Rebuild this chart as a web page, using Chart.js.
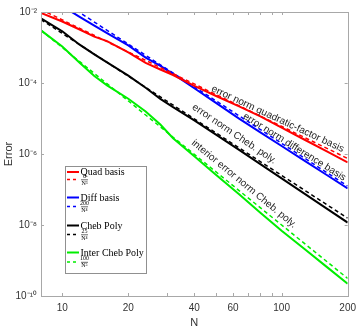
<!DOCTYPE html>
<html><head><meta charset="utf-8">
<script src="https://cdn.jsdelivr.net/npm/chart.js@4/dist/chart.umd.min.js"></script>
<style>html,body{margin:0;padding:0;background:#fff;}#wrap{width:362px;height:332px;position:relative;}</style>
</head><body><div id="wrap"><canvas id="c" width="362" height="332"></canvas></div>
<script>
// ---- data ----
const N = [8,10,12,14,16,20,24,28,32,40,50,64,80,100,128,160,200];
const quadBasis = [9.4e-3,5.4e-3,3.21e-3,2.03e-3,1.51e-3,7.28e-4,3.70e-4,2.40e-4,1.68e-4,8.3e-5,4.38e-5,2.19e-5,1.15e-5,5.57e-6,2.48e-6,1.20e-6,5.77e-7];
const diffBasis = [null,1.46e-2,7.33e-3,4.14e-3,2.53e-3,1.15e-3,5.2e-4,3.03e-4,1.80e-4,7.1e-5,2.81e-5,9.9e-6,4.08e-6,1.68e-6,6.3e-7,2.6e-7,1.07e-7];
const chebPoly = [6.65e-3,2.86e-3,1.20e-3,6.4e-4,3.80e-4,1.61e-4,7.33e-5,3.58e-5,2.08e-5,8.85e-6,3.56e-6,1.30e-6,5.16e-7,2.06e-7,7.4e-8,2.95e-8,1.17e-8];
const interCheb = [3.03e-3,1.07e-3,3.73e-4,1.57e-4,8.55e-5,3.61e-5,1.58e-5,6.76e-6,2.77e-6,8.7e-7,2.66e-7,7.3e-8,2.22e-8,6.87e-9,2.03e-9,6.73e-10,2.23e-10];
const refN = [8, 200];
const quadRef = [1.17e-2, 7.5e-7];    // 6/N^3
const diffRef = [4.88e-2, 1.25e-7];   // 200/N^4
const chebRef = [6.1e-3, 1.56e-8];    // 25/N^4
const interRef = [3.05e-3, 3.13e-10]; // 100/N^5
const xTicks = [10,20,30,40,50,60,70,80,90,100,200];
const xLabels = [10,20,40,60,100,200];
const yTicks = [1e-10,1e-8,1e-6,1e-4,1e-2];
const yLabels = ['10⁻¹⁰','10⁻⁸','10⁻⁶','10⁻⁴','10⁻²'];
const legendLabels = ['Quad basis',['6','N³'],'Diff basis',['200','N⁴'],'Cheb Poly',['25','N⁴'],'Inter Cheb Poly',['100','N⁵']];
const annotTexts = ['error norm quadratic-factor basis','error norm difference basis','error norm Cheb. poly.','interior error norm Cheb. poly.'];

const RED='#ff0000', BLUE='#0000ff', BLACK='#000000', GREEN='#00ee00';
const colors=[RED,RED,BLUE,BLUE,BLACK,BLACK,GREEN,GREEN];
const pts=(xs,ys)=>xs.map((x,i)=>({x:x,y:ys[i]}));
function solid(d,c){return {data:d,borderColor:c,borderWidth:2,pointRadius:0,fill:false,tension:0,spanGaps:false};}
function dashed(d,c){return {data:d,borderColor:c,borderWidth:1.5,borderDash:[4,3],pointRadius:0,fill:false,tension:0};}

const annotPlugin={id:'annot',afterDatasetsDraw(chart){
  const ctx=chart.ctx,xs=chart.scales.x,ys=chart.scales.y;
  const pos=[[95.9,9.7e-6,25],[114.4,1.57e-6,32],[60.8,3.66e-6,34],[67.4,1.43e-7,39.5]];
  ctx.save();
  ctx.font='10px "Liberation Sans", Arial, sans-serif';
  ctx.fillStyle='#262626';ctx.textAlign='center';ctx.textBaseline='middle';
  annotTexts.forEach((t,i)=>{
    const p=pos[i];
    ctx.save();
    ctx.translate(xs.getPixelForValue(p[0]),ys.getPixelForValue(p[1]));
    ctx.rotate(p[2]*Math.PI/180);
    ctx.fillText(t,0,0);
    ctx.restore();
  });
  ctx.restore();
}};

const framePlugin={id:'frame',afterDraw(chart){
  const ctx=chart.ctx,a=chart.chartArea,xs=chart.scales.x,ys=chart.scales.y;
  ctx.save();
  ctx.strokeStyle='#a8a8a8';ctx.lineWidth=1;
  ctx.strokeRect(Math.round(a.left)+0.5,Math.round(a.top)+0.5,Math.round(a.right-a.left),Math.round(a.bottom-a.top));
  ctx.beginPath();
  xTicks.forEach(v=>{const x=Math.round(xs.getPixelForValue(v))+0.5;
    ctx.moveTo(x,a.bottom);ctx.lineTo(x,a.bottom-3);ctx.moveTo(x,a.top);ctx.lineTo(x,a.top+3);});
  yTicks.forEach(v=>{const y=Math.round(ys.getPixelForValue(v))+0.5;
    ctx.moveTo(a.left,y);ctx.lineTo(a.left+3,y);ctx.moveTo(a.right,y);ctx.lineTo(a.right-3,y);});
  ctx.stroke();
  // legend
  const bx=65.5,by=166.5,bw=81,bh=107;
  ctx.fillStyle='#fff';ctx.fillRect(bx,by,bw,bh);
  ctx.strokeStyle='#909090';ctx.strokeRect(bx,by,bw,bh);
  const rowY=[172,179.5,197.5,206.5,225.5,234.5,252.5,262];
  legendLabels.forEach((lab,i)=>{
    const y=rowY[i];
    ctx.strokeStyle=colors[i];
    ctx.lineWidth=i%2?1.5:2;
    ctx.setLineDash(i%2?[3,3]:[]);
    ctx.beginPath();ctx.moveTo(67,y);ctx.lineTo(79,y);ctx.stroke();
    ctx.setLineDash([]);
    ctx.fillStyle='#000';
    if(typeof lab==='string'){
      ctx.font='10px "Liberation Serif", "Times New Roman", serif';
      ctx.textAlign='left';ctx.textBaseline='middle';
      ctx.fillText(lab,80.5,y+0.5);
    } else {
      ctx.font='6px "Liberation Serif", "Times New Roman", serif';
      ctx.textAlign='center';ctx.textBaseline='middle';
      const cx=84.5;
      ctx.fillText(lab[0],cx,y-3.2);
      ctx.fillText(lab[1],cx,y+3.6);
      ctx.lineWidth=0.6;ctx.strokeStyle='#000';
      ctx.beginPath();ctx.moveTo(cx-3.5,y+0.3);ctx.lineTo(cx+3.5,y+0.3);ctx.stroke();
    }
  });
  ctx.restore();
}};

new Chart(document.getElementById('c'),{
  type:'line',
  data:{datasets:[
    solid(pts(N,quadBasis),RED), dashed(pts(refN,quadRef),RED),
    solid(pts(N,diffBasis),BLUE), dashed(pts(refN,diffRef),BLUE),
    solid(pts(N,chebPoly),BLACK), dashed(pts(refN,chebRef),BLACK),
    solid(pts(N,interCheb),GREEN), dashed(pts(refN,interRef),GREEN)
  ]},
  options:{
    responsive:false,animation:false,devicePixelRatio:1,
    layout:{padding:{top:12,right:11,left:0,bottom:0}},
    plugins:{legend:{display:false},tooltip:{enabled:false}},
    scales:{
      x:{type:'logarithmic',min:8,max:200,
        afterBuildTicks:s=>{s.ticks=xTicks.map(v=>({value:v}));},
        afterFit:s=>{s.height=36;},
        grid:{display:false,drawTicks:false},border:{display:false},
        ticks:{autoSkip:false,maxRotation:0,minRotation:0,padding:6,color:'#333',
          font:{family:'"Liberation Sans", Arial, sans-serif',size:10},
          callback:v=>xLabels.includes(v)?String(v):''},
        title:{display:true,text:'N',color:'#333',padding:{top:0,bottom:2},
          font:{family:'"Liberation Sans", Arial, sans-serif',size:11}}
      },
      y:{type:'logarithmic',min:1e-10,max:1e-2,
        afterBuildTicks:s=>{s.ticks=yTicks.map(v=>({value:v}));},
        afterFit:s=>{s.width=41;},
        grid:{display:false,drawTicks:false},border:{display:false},
        ticks:{autoSkip:false,padding:4,color:'#333',
          font:{family:'"Liberation Sans", Arial, sans-serif',size:10},
          callback:function(v){const i=yTicks.findIndex(t=>Math.abs(Math.log10(t)-Math.log10(v))<1e-6);return i>=0?yLabels[i]:'';}},
        title:{display:true,text:'Error',color:'#333',padding:{top:2,bottom:0},
          font:{family:'"Liberation Sans", Arial, sans-serif',size:11}}
      }
    }
  },
  plugins:[annotPlugin,framePlugin]
});
</script></body></html>
